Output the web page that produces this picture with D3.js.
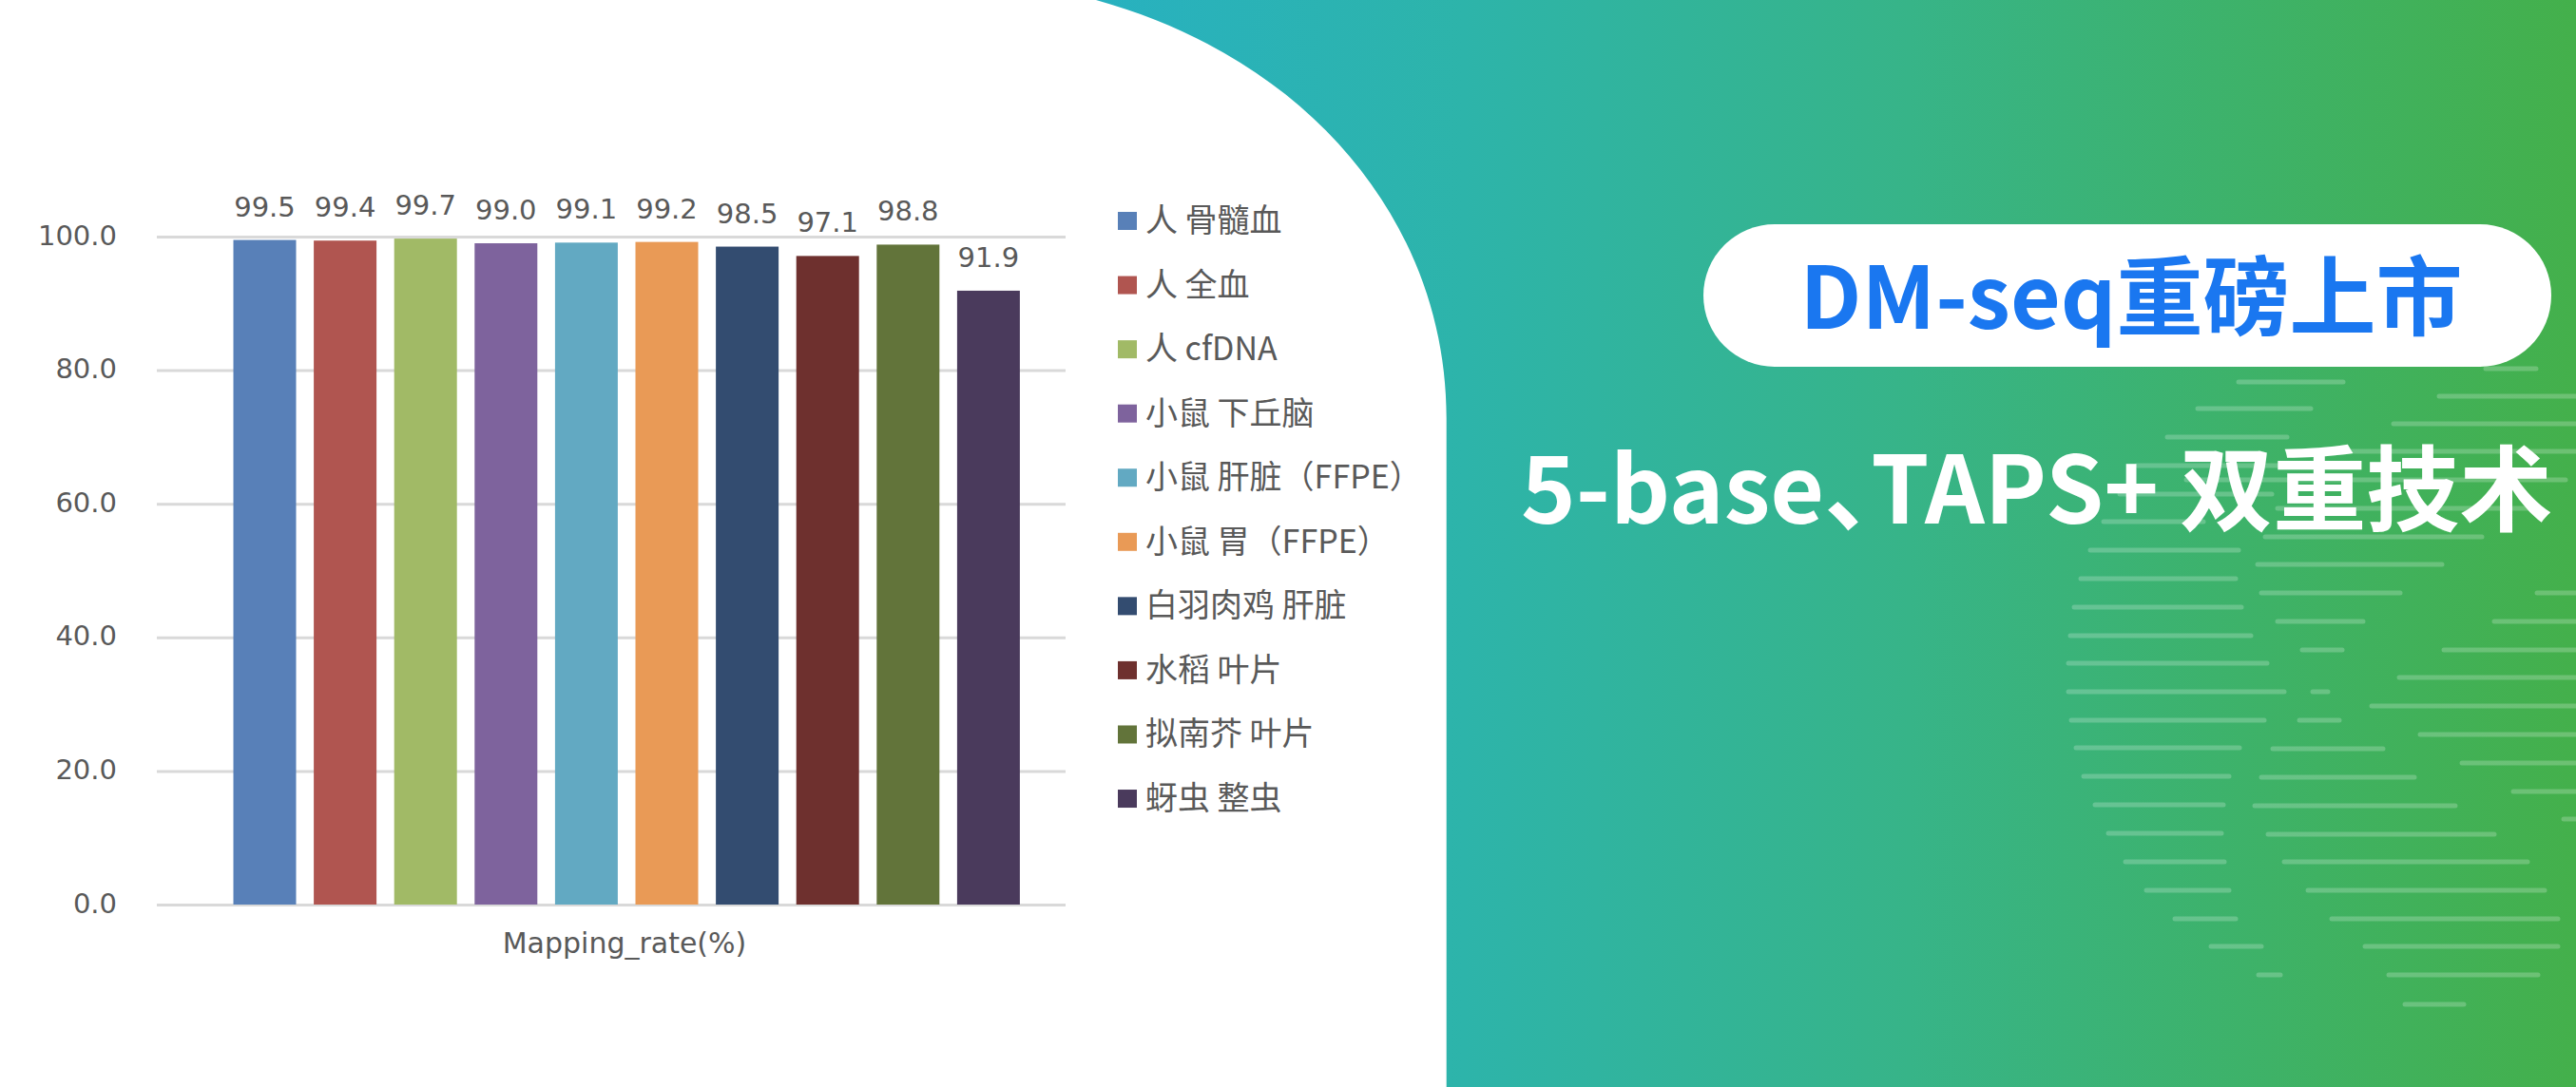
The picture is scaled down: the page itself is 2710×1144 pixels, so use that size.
<!DOCTYPE html>
<html>
<head>
<meta charset="utf-8">
<script src="https://cdn.jsdelivr.net/npm/d3@7"></script>
<style>
  html, body { margin: 0; padding: 0; background: #ffffff; }
  svg { display: block; }
  .halt { font-feature-settings: "halt" 1; }
</style>
</head>
<body>
<script>
// ---------- data ----------
const series = ["人 骨髓血", "人 全血", "人 cfDNA", "小鼠 下丘脑", "小鼠 肝脏（FFPE）",
                "小鼠 胃（FFPE）", "白羽肉鸡 肝脏", "水稻 叶片", "拟南芥 叶片", "蚜虫 整虫"];
const values = [99.5, 99.4, 99.7, 99.0, 99.1, 99.2, 98.5, 97.1, 98.8, 91.9];
const yTicks = [0, 20, 40, 60, 80, 100];
const categoryLabel = "Mapping_rate(%)";
const barColors = ["#5880b8", "#b05550", "#a1ba66", "#7e639d", "#62a9c2",
                   "#e99a56", "#334c70", "#6e302e", "#62743a", "#4a3a5c"];
const titleText = "DM-seq重磅上市";
const subtitleText = "5-base、TAPS+ 双重技术";
// decorative stripes on the banner: [y, x1, x2]
const stripes = [
  [388, 2615, 2668], [402, 2355, 2465], [417, 2566, 2712], [430, 2312, 2431],
  [446, 2518, 2712], [460, 2280, 2406], [475, 2464, 2712], [490, 2248, 2400],
  [505, 2300, 2699], [520, 2230, 2390], [535, 2396, 2660], [549, 2213, 2318],
  [565, 2383, 2611], [579, 2199, 2355], [594, 2375, 2569], [609, 2189, 2352],
  [624, 2379, 2525], [624, 2669, 2712], [639, 2182, 2358], [654, 2396, 2486],
  [654, 2624, 2712], [669, 2178, 2368], [684, 2422, 2464], [684, 2571, 2712],
  [698, 2176, 2385], [713, 2524, 2712], [728, 2176, 2403], [728, 2433, 2449],
  [743, 2495, 2712], [758, 2179, 2382], [758, 2419, 2461], [773, 2546, 2712],
  [787, 2184, 2356], [788, 2391, 2507], [803, 2590, 2712], [817, 2192, 2345],
  [818, 2379, 2540], [833, 2644, 2712], [847, 2204, 2339], [848, 2372, 2583],
  [862, 2697, 2712], [877, 2218, 2337], [878, 2386, 2624], [907, 2236, 2340],
  [907, 2403, 2659], [937, 2258, 2345], [937, 2428, 2677], [967, 2288, 2352],
  [967, 2453, 2691], [996, 2326, 2379], [996, 2488, 2691], [1026, 2376, 2399],
  [1026, 2513, 2670], [1057, 2530, 2592]
];

// ---------- canvas ----------
const W = 2710, H = 1144;
const svg = d3.select("body").append("svg").attr("width", W).attr("height", H);
svg.append("rect").attr("width", W).attr("height", H).attr("fill", "#ffffff");

// ---------- banner background ----------
const defs = svg.append("defs");
const grad = defs.append("linearGradient").attr("id", "bg")
  .attr("gradientUnits", "userSpaceOnUse")
  .attr("x1", 1150).attr("y1", 0).attr("x2", 2710).attr("y2", 0);
[[0, "#28b1c0"], [0.25, "#2db4aa"], [0.55, "#37b488"], [1, "#44b04b"]]
  .forEach(([o, c]) => grad.append("stop").attr("offset", o).attr("stop-color", c));

const bgPath = d3.path();
bgPath.moveTo(1153, 0);
bgPath.bezierCurveTo(1383, 64, 1521.7, 240, 1521.7, 440);
bgPath.lineTo(1521.7, H);
bgPath.lineTo(W, H);
bgPath.lineTo(W, 0);
bgPath.closePath();
svg.append("path").attr("d", bgPath.toString()).attr("fill", "url(#bg)");

svg.append("g").selectAll("line").data(stripes).join("line")
  .attr("x1", d => d[1]).attr("x2", d => d[2])
  .attr("y1", d => d[0]).attr("y2", d => d[0])
  .attr("stroke", "rgba(255,255,255,0.22)")
  .attr("stroke-width", 5)
  .attr("stroke-linecap", "round");

// pill
svg.append("rect")
  .attr("x", 1792).attr("y", 236).attr("width", 892).attr("height", 150)
  .attr("rx", 75).attr("ry", 75).attr("fill", "#ffffff");
svg.append("text")
  .attr("x", 2242).attr("y", 346)
  .attr("text-anchor", "middle")
  .attr("font-family", "'Noto Sans CJK SC', 'Noto Sans', sans-serif")
  .attr("font-weight", 700)
  .attr("font-size", 91)
  .attr("fill", "#1a77f0")
  .text(titleText);

svg.append("text")
  .attr("class", "halt")
  .attr("x", 1600).attr("y", 551)
  .attr("font-family", "'Noto Sans CJK SC', 'Noto Sans', sans-serif")
  .attr("font-weight", 700)
  .attr("font-size", 98)
  .attr("fill", "#ffffff")
  .text(subtitleText);

// ---------- chart ----------
const plotLeft = 165, plotRight = 1121;
const y = d3.scaleLinear().domain([0, 100]).range([952, 249]);
const x = d3.scaleBand().domain(series).range([245.5, 1072.9])
  .paddingInner(0.22).paddingOuter(0);
const color = d3.scaleOrdinal().domain(series).range(barColors);

const yAxis = d3.axisLeft(y)
  .tickValues(yTicks)
  .tickFormat(d3.format(".1f"))
  .tickSize(-(plotRight - plotLeft))
  .tickPadding(42);

const gy = svg.append("g").attr("transform", `translate(${plotLeft},0)`).call(yAxis);
gy.select(".domain").remove();
gy.selectAll(".tick line").attr("stroke", "#d9d9d9").attr("stroke-width", 3);
gy.selectAll(".tick text")
  .attr("fill", "#595959")
  .attr("font-family", "'DejaVu Sans', Verdana, sans-serif")
  .attr("font-size", 29)
  .attr("dy", "0.28em");

const data = series.map((s, i) => ({ s, v: values[i] }));

svg.append("g").selectAll("rect").data(data).join("rect")
  .attr("x", d => x(d.s))
  .attr("width", x.bandwidth())
  .attr("y", d => y(d.v))
  .attr("height", d => y(0) - y(d.v))
  .attr("fill", d => color(d.s));

svg.append("g").selectAll("text").data(data).join("text")
  .attr("x", d => x(d.s) + x.bandwidth() / 2)
  .attr("y", d => y(d.v) - 25)
  .attr("text-anchor", "middle")
  .attr("fill", "#595959")
  .attr("font-family", "'DejaVu Sans', Verdana, sans-serif")
  .attr("font-size", 29)
  .text(d => d.v.toFixed(1));

svg.append("text")
  .attr("x", 657).attr("y", 1003)
  .attr("text-anchor", "middle")
  .attr("fill", "#595959")
  .attr("font-family", "'DejaVu Sans', Verdana, sans-serif")
  .attr("font-size", 30)
  .text(categoryLabel);

// ---------- legend ----------
const legendStep = 67.56;
const lg = svg.append("g").selectAll("g").data(series).join("g")
  .attr("transform", (d, i) => `translate(1176,${232.5 + i * legendStep})`);
lg.append("rect")
  .attr("x", 0).attr("y", -9.5).attr("width", 20).attr("height", 19)
  .attr("fill", d => color(d));
lg.append("text")
  .attr("x", 29).attr("y", -3)
  .attr("dominant-baseline", "central")
  .attr("fill", "#595959")
  .attr("font-family", "'Noto Sans CJK SC', 'Noto Sans', sans-serif")
  .attr("font-size", 34)
  .text(d => d);
</script>
</body>
</html>
